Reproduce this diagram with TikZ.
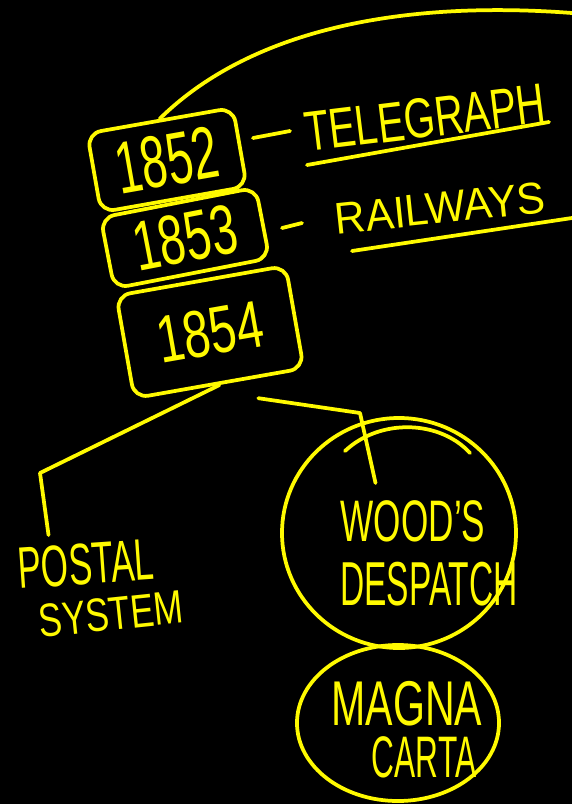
\documentclass[tikz,border=0pt]{standalone}
\usepackage{fontspec}
\setmainfont{Liberation Sans}
\usetikzlibrary{calc,shapes.geometric}

\definecolor{chalk}{RGB}{255,250,0}
\newcommand{\handfont}[1]{\fontsize{#1}{#1}\selectfont}
\newcommand{\squeezed}[2]{\scalebox{#1}[1]{#2}}

\tikzset{
	ink/.style={draw=chalk, line width=3.2pt, line cap=round, line join=round},
	yearbox/.style={ink, rounded corners=12pt, inner sep=0pt, text=chalk},
	scribble/.style={text=chalk, inner sep=0pt},
	bubble/.style={ink, ellipse, inner sep=0pt},
}

\begin{document}
\begin{tikzpicture}[x=0.03cm, y=-0.03cm]
	\fill[black] (0,0) rectangle (572,804);
	\useasboundingbox (0,0) rectangle (572,804);
	\clip (0,0) rectangle (572,804);

	\coordinate							(rimTop)		at	(572,13);
	\coordinate							(telDashA)		at	(253,138);
	\coordinate							(telDashB)		at	(290,131);
	\coordinate							(railDashA)		at	(282,228);
	\coordinate							(railDashB)		at	(302,223);
	\coordinate							(telLineA)		at	(307,165);
	\coordinate							(telLineB)		at	(549,122);
	\coordinate							(railLineA)		at	(352,251);
	\coordinate							(railLineB)		at	(572,218);
	\coordinate							(postalBend)	at	(40,473);
	\coordinate							(woodsBend)		at	(360,413);

	\node[yearbox, rotate=10, minimum width=4.44cm, minimum height=2.4cm, font=\handfont{63}]	(y1852)	at	(167,160)	{\squeezed{0.63}{1852}};
	\node[yearbox, rotate=11, minimum width=4.74cm, minimum height=2.16cm, font=\handfont{60}]	(y1853)	at	(185,238)	{\squeezed{0.67}{1853}};
	\node[yearbox, rotate=10, minimum width=5.16cm, minimum height=3.12cm, font=\handfont{57}]	(y1854)	at	(210,332)	{\squeezed{0.72}{1854}};

	\node[scribble, rotate=7, font=\handfont{48}]	(telegraph)	at	(425,118)	{\squeezed{0.71}{TELEGRAPH}};
	\node[scribble, rotate=6, font=\handfont{38}]	(railways)	at	(440,208)	{\squeezed{0.95}{RAILWAYS}};
	\node[scribble, rotate=4, font=\handfont{50}]	(postal)	at	(86,564)	{\squeezed{0.6}{POSTAL}};
	\node[scribble, rotate=6, font=\handfont{40}]	(system)	at	(111,614)	{\squeezed{0.75}{SYSTEM}};

	\node[bubble, minimum width=7.02cm, minimum height=6.9cm]	(woods)	at	(399,533)	{};
	\node[bubble, minimum width=6.06cm, minimum height=4.68cm]	(magna)	at	(398,723)	{};
	\node[scribble, font=\handfont{50}]	(woodsA)	at	(413,521)	{\squeezed{0.6}{WOOD'S}};
	\node[scribble, font=\handfont{53}]	(woodsB)	at	(429,584)	{\squeezed{0.54}{DESPATCH}};
	\node[scribble, font=\handfont{54}]	(magnaA)	at	(407,704)	{\squeezed{0.65}{MAGNA}};
	\node[scribble, font=\handfont{50}]	(magnaB)	at	(424,757)	{\squeezed{0.54}{CARTA}};

	\draw[ink] (y1852.north) .. controls (250,30) and (400,0) .. (rimTop);
	\draw[ink] (telDashA) -- (telDashB);
	\draw[ink] (railDashA) -- (railDashB);
	\draw[ink] (telLineA) -- (telLineB);
	\draw[ink] (railLineA) -- (railLineB);

	\draw[ink] (y1854.south) -- (postalBend) -- ($(postal.north)+(-36,-8)$);
	\draw[ink] ($(y1854.south)!0.45!(y1854.south east)+(0,20)$) -- (woodsBend) -- ($(woodsA.north west)+(35,-17)$);
	\draw[ink] (345,451) .. controls (380,418) and (440,420) .. (470,453);

\end{tikzpicture}
\end{document}
